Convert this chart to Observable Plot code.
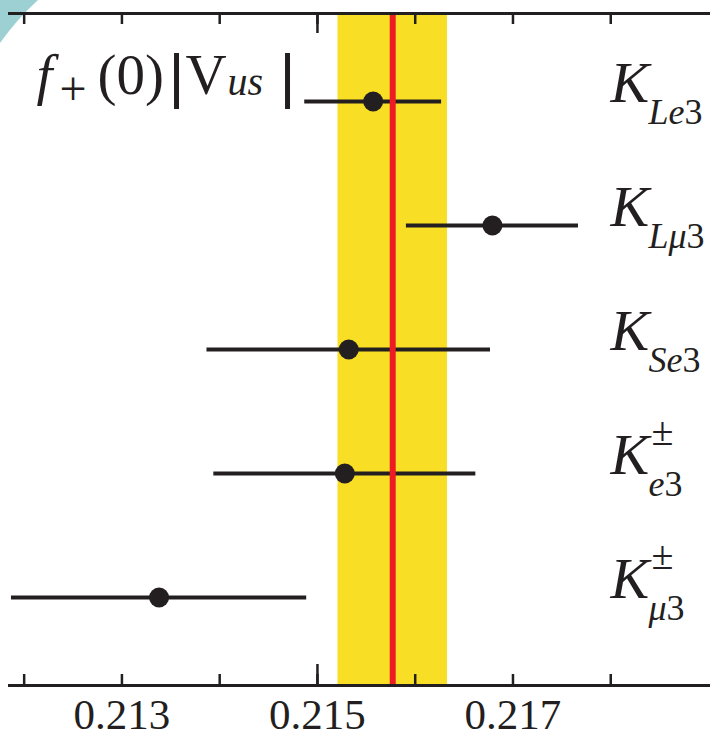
<!DOCTYPE html>
<html><head><meta charset="utf-8">
<script src="https://cdn.jsdelivr.net/npm/d3@7"></script>
<script src="https://cdn.jsdelivr.net/npm/@observablehq/plot@0.6"></script>
<style>
html,body{margin:0;padding:0;background:#fff;}
#chart svg{display:block;}
</style>
</head><body><div id="chart"></div>
<script>
// ---- data ----
const names = ["K_Le3", "K_Lmu3", "K_Se3", "K_e3_pm", "K_mu3_pm"];
const values = [0.21557, 0.21679, 0.21532, 0.21528, 0.21338];
const errors = [0.00070, 0.00088, 0.00145, 0.00134, 0.00151];
const labelMain = ["K", "K", "K", "K", "K"];
const labelSub = ["Le3", "Lμ3", "Se3", "e3", "μ3"];
const labelSup = ["", "", "", "±", "±"];
const average = 0.21577;
const averageError = 0.00056;
const tickValues = [0.212, 0.213, 0.214, 0.215, 0.216, 0.217, 0.218];
const longTickValues = [0.215];
const tickLabelValues = [0.213, 0.215, 0.217];
const xDomain = [0.21185, 0.21900];
const titleParts = ["f", "+", "(0)", "|", "V", "us", "|"];

// ---- derived tables ----
const rows = names.map((name, i) => ({
  name, value: values[i], lo: values[i] - errors[i], hi: values[i] + errors[i],
  main: labelMain[i], sub: labelSub[i], sup: labelSup[i]
}));
const band = [{lo: average - averageError, hi: average + averageError}];
const titleString = titleParts.join("");

const W = 719, H = 738, mt = 13, mb = 53, ml = 9, mr = 11;
const frameH = H - mt - mb;
const dark = "#231f20", yellow = "#f8df25", red = "#ec1c24", teal = "#9dd0d2";
const serif = "'Liberation Serif', 'Times New Roman', serif";

const plot = Plot.plot({
  width: W, height: H,
  marginTop: mt, marginBottom: mb, marginLeft: ml, marginRight: mr,
  style: {fontFamily: serif, background: "transparent", color: dark, overflow: "visible"},
  x: {domain: xDomain, axis: null},
  y: {type: "point", domain: names, padding: 0.7, axis: null},
  marks: [
    Plot.rect(band, {x1: "lo", x2: "hi", fill: yellow}),
    Plot.ruleY(rows, {y: "name", x1: "lo", x2: "hi", stroke: dark, strokeWidth: 4}),
    Plot.ruleX([average], {x: d => d, stroke: red, strokeWidth: 6}),
    Plot.frame({anchor: "top", stroke: dark, strokeWidth: 3}),
    Plot.frame({anchor: "bottom", stroke: dark, strokeWidth: 3}),
    Plot.ruleX(tickValues, {x: d => d, insetBottom: frameH - 11, stroke: dark, strokeWidth: 2.5}),
    Plot.ruleX(tickValues, {x: d => d, insetTop: frameH - 11, stroke: dark, strokeWidth: 2.5}),
    Plot.ruleX(longTickValues, {x: d => d, insetBottom: frameH - 20, stroke: dark, strokeWidth: 2.5}),
    Plot.ruleX(longTickValues, {x: d => d, insetTop: frameH - 21, stroke: dark, strokeWidth: 2.5}),
    Plot.dot(rows, {x: "value", y: "name", r: 10, fill: dark, stroke: "none"}),
    Plot.axisX({ticks: tickLabelValues, anchor: "bottom", tickSize: 0, tickPadding: 13,
      tickFormat: d3.format(".3f"), fontSize: 43, label: null, fill: dark}),
    Plot.text(rows, {y: "name", frameAnchor: "right", text: "main", dx: -98, textAnchor: "start",
      lineAnchor: "bottom", fontSize: 58, fontStyle: "italic", fill: dark}),
    Plot.text(rows, {y: "name", frameAnchor: "right", text: "sub", dx: -60, dy: 22, textAnchor: "start",
      lineAnchor: "bottom", fontSize: 36, fill: dark}),
    Plot.text(rows, {y: "name", frameAnchor: "right", text: "sup", dx: -57, dy: -29, textAnchor: "start",
      lineAnchor: "bottom", fontSize: 40, fill: dark}),
    Plot.text([titleString], {frameAnchor: "top-left", text: d => d, dy: 80, textAnchor: "start",
      lineAnchor: "bottom", fontSize: 57, fill: dark})
  ]
});

document.getElementById("chart").appendChild(plot);
const svg = d3.select(plot);

// corner decoration
svg.insert("path", ":first-child").attr("d", "M0,0H38Q17,19 0,43Z").attr("fill", teal);

const titleLayout = [
  {x: 27, dy: 0, size: 57, italic: true, bold: false},
  {x: 50, dy: 11, size: 48, italic: false, bold: false},
  {x: 88, dy: 0, size: 57, italic: false, bold: false},
  {x: 161, dy: 1, size: 60, italic: false, bold: true},
  {x: 176, dy: 0, size: 57, italic: false, bold: false},
  {x: 218, dy: 1, size: 40, italic: true, bold: false},
  {x: 272, dy: 1, size: 60, italic: false, bold: true}
];

svg.selectAll("text").each(function () {
  const s = this.textContent;
  const t = d3.select(this);
  if (labelSub.includes(s) && this.children.length === 0) {
    // subscripts: italic letters, upright digit
    t.text(null);
    t.append("tspan").attr("font-style", "italic").text(s.slice(0, -1));
    t.append("tspan").attr("font-style", "normal").text(s.slice(-1));
  } else if (s === titleString && this.children.length === 0) {
    const ax = this.getAttribute("x"), ay = this.getAttribute("y");
    const bx = ax && !/em/.test(ax) ? parseFloat(ax) : 0;
    const by = ay && !/em/.test(ay) ? parseFloat(ay) : 0;
    t.text(null);
    titleParts.forEach((p, i) => {
      const L = titleLayout[i];
      const sp = t.append("tspan").attr("x", bx + L.x).attr("y", by + L.dy)
        .attr("font-size", L.size).attr("font-style", L.italic ? "italic" : "normal").text(p);
      if (L.bold) sp.attr("stroke", dark).attr("stroke-width", 2);
    });
  }
});
</script>
</body></html>
